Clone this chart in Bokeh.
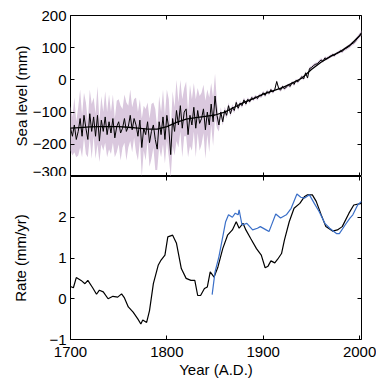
from bokeh.plotting import figure
from bokeh.layouts import column
from bokeh.models import LinearAxis, FixedTicker, Range1d, CustomLabelingPolicy
from bokeh.embed import file_html
from bokeh.resources import INLINE

# ---------------- data ----------------
years = list(range(1700, 2003, 2))

sea_level = [
    -150, -175, -140, -185, -160, -120, -175, -110, -150, -185,
    -105, -160, -115, -175, -110, -190, -125, -160, -115, -170,
    -130, -165, -120, -180, -145, -130, -165, -150, -120, -160,
    -145, -110, -155, -120, -140, -175, -125, -210, -150, -170,
    -130, -195, -160, -140, -185, -215, -130, -170, -115, -185,
    -110, -150, -232, -120, -160, -95, -140, -80, -150, -100,
    -90, -170, -110, -140, -85, -150, -95, -135, -120, -90,
    -155, -100, -140, -75, -130, -50, -110, -140, -100, -130,
    -95, -110, -80, -105, -85, -95, -70, -88, -72, -80,
    -62, -75, -60, -68, -55, -60, -52, -58, -48, -50,
    -40, -48, -36, -42, -30, -38, -30, -5, -26, -32,
    -20, -28, -22, -16, -20, -8, -14, -2, -6, 2,
    10, 3, 22, 6, 35, 38, 44, 48, 50, 56,
    62, 58, 68, 66, 70, 74, 78, 76, 82, 85,
    90, 88, 95, 98, 102, 106, 112, 115, 122, 130,
    138, 146,
]

half_width = [
    70, 60, 85, 55, 75, 90, 65, 70, 80, 55,
    75, 85, 60, 70, 90, 65, 75, 60, 80, 70,
    85, 65, 75, 60, 80, 70, 85, 60, 75, 90,
    65, 80, 70, 60, 85, 75, 65, 90, 70, 80,
    60, 75, 85, 70, 95, 65, 80, 70, 85, 75,
    80, 90, 70, 85, 75, 95, 70, 80, 90, 75,
    85, 70, 95, 80, 75, 90, 70, 85, 80, 75,
    90, 70, 85, 65, 75, 70, 40, 20, 15, 12,
    12, 10, 10, 9, 9, 8, 8, 8, 7, 7,
    7, 7, 6, 6, 6, 6, 6, 6, 6, 6,
    6, 6, 6, 6, 5, 5, 5, 5, 5, 5,
    5, 5, 5, 5, 5, 5, 5, 5, 5, 5,
    5, 5, 5, 5, 5, 5, 5, 5, 5, 5,
    5, 5, 5, 5, 5, 5, 5, 5, 5, 5,
    5, 5, 5, 6, 6, 6, 6, 6, 7, 7,
    8, 8,
]

smooth_years = [1700, 1710, 1720, 1730, 1740, 1750, 1760, 1770, 1780, 1790,
                1800, 1810, 1820, 1830, 1840, 1850, 1860, 1870, 1880, 1890,
                1900, 1910, 1920, 1930, 1940, 1950, 1960, 1970, 1980, 1990,
                2000, 2002]
smooth_level = [-150, -148, -146, -145, -145, -145, -147, -150, -153, -153,
                -145, -132, -122, -117, -113, -109, -100, -85, -70, -58,
                -44, -34, -24, -10, 5, 32, 55, 73, 88, 108,
                137, 144]

rate_years = [1700, 1703, 1706, 1711, 1715, 1718, 1723, 1727, 1730, 1734,
              1739, 1744, 1749, 1753, 1756, 1760, 1765, 1770, 1773, 1775,
              1779, 1782, 1786, 1791, 1794, 1798, 1801, 1806, 1810, 1815,
              1820, 1825, 1829, 1832, 1835, 1839, 1842, 1845, 1849, 1853,
              1858, 1863, 1868, 1872, 1875, 1879, 1882, 1887, 1893, 1898,
              1902, 1905, 1908, 1912, 1915, 1919, 1922, 1927, 1932, 1938,
              1943, 1946, 1951, 1955, 1960, 1965, 1972, 1977, 1982, 1989,
              1994, 2002]
rate_black = [0.30, 0.27, 0.52, 0.45, 0.37, 0.45, 0.27, 0.11, 0.21, 0.17,
              0.00, 0.06, 0.04, 0.12, 0.02, -0.20, -0.33, -0.50, -0.62, -0.52,
              -0.58, -0.29, 0.37, 0.82, 0.95, 1.07, 1.52, 1.56, 1.36, 0.74,
              0.50, 0.45, 0.45, 0.08, 0.08, 0.25, 0.29, 0.66, 0.53, 0.78,
              1.23, 1.56, 1.69, 1.89, 1.73, 1.85, 1.69, 1.48, 1.23, 1.07,
              0.76, 0.80, 0.93, 0.88, 0.97, 1.11, 1.44, 1.89, 2.22, 2.34,
              2.51, 2.55, 2.55, 2.39, 2.07, 1.77, 1.66, 1.69, 1.77, 2.10,
              2.30, 2.34]

blue_years = [1847, 1850, 1854, 1858, 1861, 1864, 1868, 1871, 1874, 1875,
              1878, 1883, 1889, 1894, 1897, 1903, 1906, 1908, 1913, 1918,
              1924, 1929, 1935, 1939, 1943, 1948, 1953, 1958, 1964, 1969,
              1976, 1979, 1985, 1990, 1993, 1998, 2002]
rate_blue = [0.10, 0.66, 1.03, 1.52, 1.89, 2.06, 2.00, 2.10, 2.06, 2.18,
             1.81, 1.85, 1.69, 1.73, 1.77, 1.69, 1.65, 1.77, 2.08, 1.98,
             2.06, 2.22, 2.57, 2.49, 2.47, 2.55, 2.34, 2.14, 1.85, 1.73,
             1.60, 1.60, 1.81, 1.98, 2.06, 2.30, 2.39]

x_ticks = [1700, 1800, 1900, 2000]
sea_ticks = [-300, -200, -100, 0, 100, 200]
rate_ticks = [-1, 0, 1, 2]

# ---------------- style ----------------
FONT = "Liberation Sans"
FS = "15px"
BAND = "#dac8de"
BLUE = "#3a6fc8"


def minus(v):
    return str(v).replace("-", "\u2212")


def make_axis(ticks, labels=True, label_text=None):
    ax = LinearAxis(ticker=FixedTicker(ticks=ticks))
    ax.major_tick_in = 4
    ax.major_tick_out = 0
    ax.minor_tick_line_color = None
    ax.major_tick_line_color = "black"
    ax.axis_line_color = None
    ax.major_label_text_font = FONT
    ax.major_label_text_color = "black"
    if labels:
        ax.major_label_text_font_size = FS
        ax.major_label_standoff = 4
        ax.major_label_overrides = {t: minus(t) for t in ticks}
    else:
        ax.major_label_text_font_size = "0px"
        ax.major_label_standoff = 0
        ax.major_label_policy = CustomLabelingPolicy(
            code="for (const i of indices) { indices.unset(i) }\nreturn indices")
    ax.axis_label_text_font = FONT
    ax.axis_label_text_font_size = FS
    ax.axis_label_text_font_style = "normal"
    ax.axis_label_text_color = "black"
    if label_text:
        ax.axis_label = label_text
    return ax


def make_fig(height, y_range, x_range, top, bottom):
    p = figure(width=376, height=height, x_range=x_range, y_range=y_range,
               output_backend="svg", toolbar_location=None,
               x_axis_location=None, y_axis_location=None,
               min_border_left=70, min_border_right=15,
               min_border_top=top, min_border_bottom=bottom)
    p.outline_line_color = "black"
    p.outline_line_width = 1
    p.outline_line_alpha = 1
    p.grid.visible = False
    return p


# ---- top panel ----
p1 = make_fig(176, Range1d(-300, 200), Range1d(1700, 2002), 15, 0)
sea_axis = make_axis(sea_ticks, True, "Sea level (mm)")
sea_axis.axis_label_standoff = 0
p1.add_layout(sea_axis, "left")
p1.add_layout(make_axis(sea_ticks, False), "right")
p1.add_layout(make_axis(x_ticks, False), "above")
p1.add_layout(make_axis(x_ticks, False), "below")

lower = [v - h for v, h in zip(sea_level, half_width)]
upper = [v + h for v, h in zip(sea_level, half_width)]
p1.varea(x=years, y1=lower, y2=upper, fill_color=BAND, fill_alpha=1)
p1.line(smooth_years, smooth_level, line_color="black", line_width=1.3)
p1.line(years, sea_level, line_color="black", line_width=1.0)

# ---- bottom panel ----
p2 = make_fig(208, Range1d(-1, 3), p1.x_range, 0, 45)
rate_axis = make_axis(rate_ticks, True, "Rate (mm/yr)")
rate_axis.axis_label_standoff = 17
p2.add_layout(rate_axis, "left")
p2.add_layout(make_axis(rate_ticks, False), "right")
p2.add_layout(make_axis(x_ticks, False), "above")
year_axis = make_axis(x_ticks, True, "Year (A.D.)")
year_axis.major_label_standoff = 7
year_axis.axis_label_standoff = 1
p2.add_layout(year_axis, "below")

p2.line(rate_years, rate_black, line_color="black", line_width=1.2)
p2.line(blue_years, rate_blue, line_color=BLUE, line_width=1.2)

layout = column(p1, p2, spacing=0)
open("out.html", "w").write(file_html(layout, INLINE))
